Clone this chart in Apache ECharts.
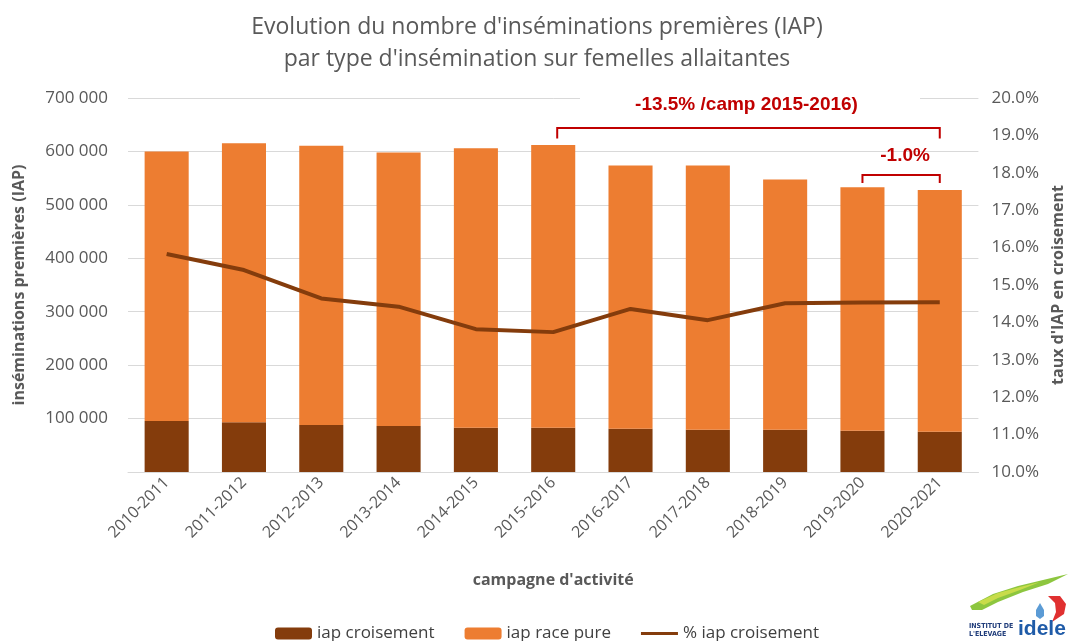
<!DOCTYPE html>
<html><head><meta charset="utf-8">
<script src="https://cdn.jsdelivr.net/npm/echarts@6/dist/echarts.min.js"></script>
<style>html,body{margin:0;padding:0;background:#fff}#c{width:1074px;height:641px}</style>
</head><body><div id="c"></div>
<script>
var categories = ['2010-2011','2011-2012','2012-2013','2013-2014','2014-2015','2015-2016','2016-2017','2017-2018','2018-2019','2019-2020','2020-2021'];
var iapTotal = [600000, 615500, 610500, 598000, 606000, 612000, 573600, 573600, 547400, 533000, 528000];
var iapCroisement = [95500, 93000, 88000, 86100, 83000, 83000, 81100, 79300, 79300, 77400, 75500];
var pctCroisement = [15.83, 15.40, 14.64, 14.42, 13.82, 13.74, 14.36, 14.06, 14.51, 14.53, 14.54];
var iapRacePure = iapTotal.map(function(t, i){ return t - iapCroisement[i]; });
var leftTicks = {min: 0, max: 700000, interval: 100000};
var rightTicks = {min: 10, max: 20, interval: 1};

var font = 'Open Sans';
var gray = '#595959';
var red = '#C00000';
var chart = echarts.init(document.getElementById('c'), null, {renderer: 'canvas'});
chart.setOption({
  animation: false,
  textStyle: {fontFamily: font},
  title: {
    text: "Evolution du nombre d'inséminations premières (IAP)\npar type d'insémination sur femelles allaitantes",
    left: 'center', top: 6,
    textStyle: {fontFamily: font, fontSize: 23, fontWeight: 'normal', color: gray, lineHeight: 32}
  },
  legend: {
    top: 620, left: 270, itemGap: 30, itemWidth: 37, itemHeight: 12,
    data: [{name: 'iap croisement'}, {name: 'iap race pure'}, {name: '% iap croisement', icon: 'path://M0,5 L37,5 L37,8 L0,8 Z'}],
    textStyle: {fontFamily: font, fontSize: 17, color: '#404040'}
  },
  grid: {left: 128, right: 94, top: 98, bottom: 169},
  xAxis: {
    type: 'category', data: categories,
    name: "campagne d'activité", nameLocation: 'middle', nameGap: 100,
    nameTextStyle: {fontFamily: font, fontSize: 16, fontWeight: 'bold', color: gray},
    axisLine: {lineStyle: {color: '#D9D9D9'}}, axisTick: {show: false},
    axisLabel: {rotate: 45, fontSize: 16, color: gray, margin: 8, fontFamily: font}
  },
  yAxis: [{
    type: 'value', min: leftTicks.min, max: leftTicks.max, interval: leftTicks.interval,
    name: 'inséminations premières (IAP)', nameLocation: 'middle', nameGap: 101,
    nameTextStyle: {fontFamily: font, fontSize: 16, fontWeight: 'bold', color: gray},
    axisLine: {show: false}, axisTick: {show: false},
    splitLine: {lineStyle: {color: '#D9D9D9'}},
    axisLabel: {fontSize: 17, color: gray, margin: 20, fontFamily: font,
      formatter: function(v){ return v === 0 ? '' : String(v).replace(/\B(?=(\d{3})+(?!\d))/g, ' '); }}
  }, {
    type: 'value', min: rightTicks.min, max: rightTicks.max, interval: rightTicks.interval,
    name: "taux d'IAP en croisement", nameLocation: 'middle', nameGap: 70,
    nameTextStyle: {fontFamily: font, fontSize: 16, fontWeight: 'bold', color: gray},
    axisLine: {show: false}, axisTick: {show: false}, splitLine: {show: false},
    axisLabel: {fontSize: 17, color: gray, margin: 13, fontFamily: font,
      formatter: function(v){ return v.toFixed(1) + '%'; }}
  }],
  series: [{
    name: 'iap croisement', type: 'bar', stack: 'iap', data: iapCroisement,
    barCategoryGap: '43%', itemStyle: {color: '#843C0C'}
  }, {
    name: 'iap race pure', type: 'bar', stack: 'iap', data: iapRacePure,
    itemStyle: {color: '#ED7D31'}
  }, {
    name: '% iap croisement', type: 'line', yAxisIndex: 1, data: pctCroisement,
    symbol: 'none', lineStyle: {color: '#843C0C', width: 4}, itemStyle: {color: '#843C0C'}, z: 5
  }]
});

function px(cat, val){ return chart.convertToPixel({xAxisIndex: 0, yAxisIndex: 0}, [cat, val]); }
var a1 = px(5, 644000), a1b = px(5, 624000), a2 = px(10, 644000);
var b1 = px(9, 556000), b1b = px(9, 541000), b2 = px(10, 556000);
var t1 = px(5, 688000), t2 = px(10, 688000), t3 = px(9, 592000), t4 = px(10, 592000);
var lf = 'bold 19px "Liberation Sans", Arial';
chart.setOption({graphic: [
  {type: 'rect', shape: {x: 580, y: t1[1] - 15, width: 340, height: 30}, style: {fill: '#fff'}, z: 10},
  {type: 'polyline', shape: {points: [[a1[0] + 4, a1b[1]], [a1[0] + 4, a1[1]], [a2[0], a1[1]], [a2[0], a1b[1]]]}, style: {stroke: red, lineWidth: 2, fill: null}, z: 11},
  {type: 'polyline', shape: {points: [[b1[0], b1b[1]], [b1[0], b1[1]], [b2[0], b1[1]], [b2[0], b1b[1]]]}, style: {stroke: red, lineWidth: 2, fill: null}, z: 11},
  {type: 'text', x: (t1[0] + t2[0]) / 2, y: t1[1], style: {text: '-13.5% /camp 2015-2016)', fill: red, font: lf, align: 'center', verticalAlign: 'middle'}, z: 11},
  {type: 'text', x: (t3[0] + t4[0]) / 2 + 4, y: t3[1], style: {text: '-1.0%', fill: red, font: lf, align: 'center', verticalAlign: 'middle'}, z: 11},
  {type: 'group', x: 968, y: 574, children: [
    {type: 'polygon', shape: {points: [[2,32],[25,20],[50,12],[75,6],[100,0],[80,10],[55,18],[30,28],[14,36],[4,36]]}, style: {fill: '#8DC63F'}},
    {type: 'polygon', shape: {points: [[10,28],[30,19],[52,13],[72,8],[52,16],[30,24],[16,31]]}, style: {fill: '#C8DC4A'}},
    {type: 'polygon', shape: {points: [[72,29],[68,36],[68,42],[72,45],[76,42],[76,36]]}, style: {fill: '#5B9BD5'}},
    {type: 'polygon', shape: {points: [[80,22],[92,22],[98,30],[96,40],[84,48],[88,38],[87,29]]}, style: {fill: '#E03030'}},
    {type: 'text', x: 1, y: 49, style: {text: 'INSTITUT DE', fill: '#1F3C7A', font: 'bold 7px "DejaVu Sans Condensed", sans-serif'}},
    {type: 'text', x: 1, y: 57, style: {text: "L'ELEVAGE", fill: '#1F3C7A', font: 'bold 7px "DejaVu Sans Condensed", sans-serif'}},
    {type: 'text', x: 50, y: 45, style: {text: 'idele', fill: '#1F5BA8', font: 'bold 21px "Liberation Sans", Arial'}}
  ]}
]});
</script></body></html>
